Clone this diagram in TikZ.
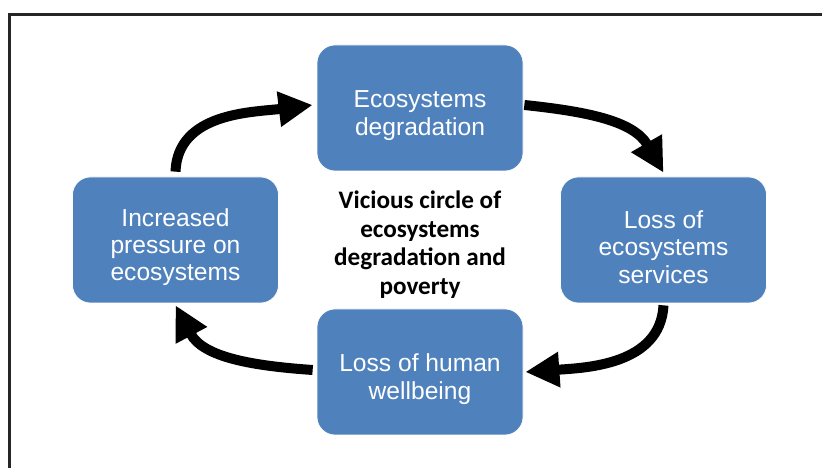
\documentclass[tikz,border=0pt]{standalone}
\usepackage{fontspec}
\setmainfont{Liberation Sans}
\newfontfamily\carlito{Carlito}
\usepackage{tikz}
\usetikzlibrary{arrows.meta}
\definecolor{stageblue}{HTML}{4F81BD}
% taller first line, pushes the box text a bit down
\newcommand{\stagestrut}{\rule{0pt}{27.5pt}}

\begin{document}
\begin{tikzpicture}[
  stage/.style={draw=white, line width=0.6pt, fill=stageblue, rounded corners=0.54cm,
    minimum width=6.18cm, minimum height=3.78cm, text=white, align=center,
    font=\fontsize{21}{23.2}\selectfont},
  cycle/.style={-{Triangle[length=1.02cm,width=1.0cm]}, line width=0.3cm, black}
]

% white page, also fixes the size
\fill[white] (0,0) rectangle (24.66,14.04);
\useasboundingbox (0,0) rectangle (24.66,14.04);

% frame round the figure, only top and left edge inside the page
\draw[line width=0.09cm, black!85] (0.285,-0.5) -- (0.285,13.59) -- (25,13.59);

% the four stages
\path
(12.6,10.8) node[stage] (degradation) {\stagestrut Ecosystems\\degradation}
(19.905,6.84) node[stage] (services) {\stagestrut Loss of\\ecosystems\\services}
(12.6,2.88) node[stage] (wellbeing) {\stagestrut Loss of human\\wellbeing}
(5.265,6.84) node[stage] (pressure) {\stagestrut Increased\\pressure on\\ecosystems};

% title in the middle of the loop
\path
(12.6,6.7) node[align=center, font=\carlito\bfseries\fontsize{21.5}{24.3}\selectfont] (title)
{Vicious circle of\\ecosystems\\degradation and\\poverty};

%% curved arrows, clockwise
\draw[cycle] ([yshift=0.15cm]pressure.north)
  to[out=88, in=187] ([xshift=-0.12cm, yshift=0.09cm]degradation.west);
\draw[cycle] ([xshift=0.03cm, yshift=0.09cm]degradation.east)
  to[out=-6, in=120] ([yshift=0.12cm]services.north);
\draw[cycle] ([yshift=-0.06cm]services.south)
  to[out=-93, in=4] ([xshift=0.06cm]wellbeing.east);
\draw[cycle] ([xshift=-0.12cm, yshift=0.06cm]wellbeing.west)
  to[out=176, in=-62] ([yshift=-0.06cm]pressure.south);

\end{tikzpicture}
\end{document}
